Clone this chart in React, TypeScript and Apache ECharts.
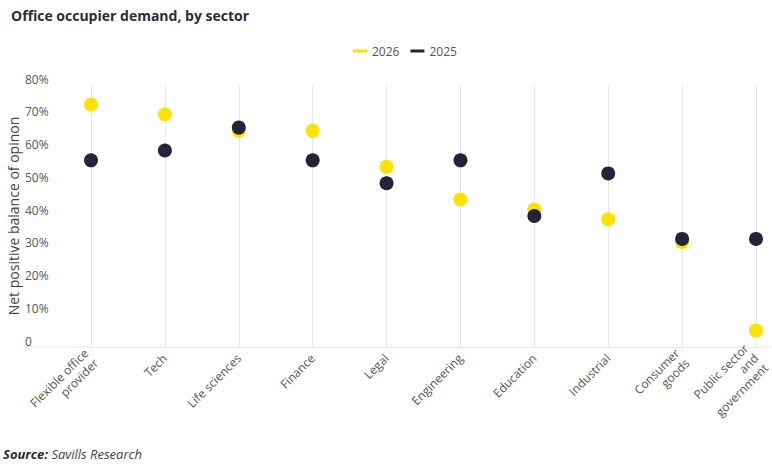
import React, { useEffect, useRef } from "react";
import * as echarts from "echarts";

const categories = [
  "Flexible office\nprovider",
  "Tech",
  "Life sciences",
  "Finance",
  "Legal",
  "Engineering",
  "Education",
  "Industrial",
  "Consumer\ngoods",
  "Public sector\nand\ngovernment",
];
const values2026 = [74, 71, 66, 66, 55, 45, 42, 39, 32, 5];
const values2025 = [57, 60, 67, 57, 50, 57, 40, 53, 33, 33];
const yTicks = [0, 10, 20, 30, 40, 50, 60, 70, 80];

const FONT = "'Open Sans', 'Noto Sans', sans-serif";
const YELLOW = "#FFE100";
const DARK = "#222437";
const GRID_LINE = "#e6e6e6";

export default function App() {
  const ref = useRef<HTMLDivElement>(null);
  useEffect(() => {
    if (!ref.current) return;
    const chart = echarts.init(ref.current, undefined, { renderer: "svg" });
    chart.setOption({
      animation: false,
      textStyle: { fontFamily: FONT },
      title: {
        text: "Office occupier demand, by sector",
        left: 6,
        top: 3,
        textStyle: { fontFamily: FONT, fontSize: 14, fontWeight: "bold", color: "#2b2c3a" },
      },
      legend: {
        data: ["2026", "2025"],
        left: 348,
        top: 40,
        icon: "rect",
        itemWidth: 14,
        itemHeight: 3,
        itemGap: 11,
        textStyle: { fontFamily: FONT, fontSize: 12, color: "#555" },
      },
      grid: {
        left: 91,
        right: 16,
        top: 85,
        bottom: 120,
        containLabel: false,
        outerBoundsMode: "none",
      },
      xAxis: {
        type: "category",
        data: categories,
        boundaryGap: false,
        axisLine: { lineStyle: { color: GRID_LINE, width: 1 } },
        axisTick: { show: false },
        splitLine: { show: true, lineStyle: { color: GRID_LINE, width: 1 } },
        axisLabel: {
          rotate: 45,
          interval: 0,
          margin: 9,
          fontFamily: FONT,
          fontSize: 12,
          lineHeight: 14,
          color: "#555",
        },
      },
      yAxis: {
        type: "value",
        min: 0,
        max: 80,
        interval: 10,
        name: "Net positive balance of opinon",
        nameLocation: "middle",
        nameGap: 71,
        nameMoveOverlap: false,
        nameTextStyle: { fontFamily: FONT, fontSize: 14, color: "#444" },
        axisLine: { show: false },
        axisTick: { show: false },
        splitLine: { show: false },
        axisLabel: {
          align: "left",
          margin: 66,
          verticalAlign: "bottom",
          lineHeight: 12,
          fontFamily: FONT,
          fontSize: 12,
          color: "#555",
          formatter: (v: number) => (yTicks.includes(v) ? (v === 0 ? "0" : v + "%") : ""),
        },
      },
      graphic: [
        {
          type: "line",
          shape: { x1: 25, y1: 347, x2: 91, y2: 347 },
          style: { stroke: GRID_LINE, lineWidth: 1 },
        },
        {
          type: "line",
          shape: { x1: 756, y1: 347, x2: 772, y2: 347 },
          style: { stroke: GRID_LINE, lineWidth: 1 },
        },
        {
          type: "text",
          left: 3,
          top: 447,
          style: {
            text: "{b|Source:} {i|Savills Research}",
            rich: {
              b: { fontFamily: FONT, fontSize: 13, fontWeight: "bold", fontStyle: "italic", fill: "#2b2c3a" },
              i: { fontFamily: FONT, fontSize: 13, fontStyle: "italic", fill: "#444" },
            },
          },
        },
      ],
      series: [
        {
          name: "2026",
          type: "scatter",
          data: values2026,
          symbolSize: 14,
          itemStyle: { color: YELLOW, opacity: 1 },
          z: 2,
        },
        {
          name: "2025",
          type: "scatter",
          data: values2025,
          symbolSize: 14,
          itemStyle: { color: DARK, opacity: 1 },
          z: 3,
        },
      ],
    });
    return () => chart.dispose();
  }, []);
  return <div ref={ref} style={{ width: 772, height: 467, position: "absolute", left: 0, top: 0 }} />;
}
